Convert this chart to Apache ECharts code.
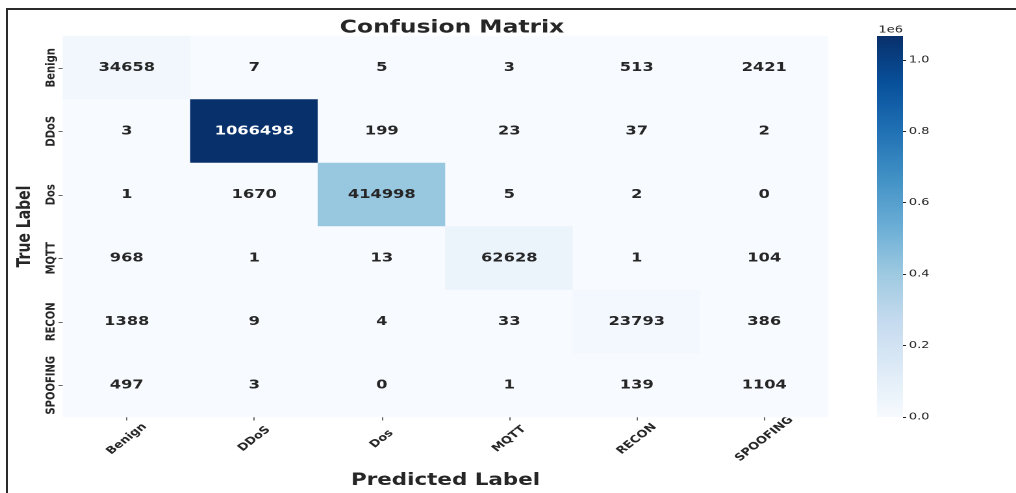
<!DOCTYPE html>
<html>
<head>
<meta charset="utf-8">
<script src="https://cdn.jsdelivr.net/npm/echarts@6/dist/echarts.min.js"></script>
<style>
  html, body { margin: 0; padding: 0; background: #ffffff; overflow: hidden; }
  #chart { position: absolute; left: 0; top: 0; width: 782px; height: 493px;
           transform: scaleX(1.29923); transform-origin: 0 0; }
  #frame { position: absolute; left: 6px; top: 8px; right: -10px; bottom: -10px;
           border-top: 2px solid #2b2b2b; border-left: 2px solid #2b2b2b;
           pointer-events: none; z-index: 5; }
</style>
</head>
<body>
<div id="chart"></div>
<div id="frame"></div>
<script>
// ---- data ----
const predictedLabels = ['Benign', 'DDoS', 'Dos', 'MQTT', 'RECON', 'SPOOFING'];
const trueLabels = ['Benign', 'DDoS', 'Dos', 'MQTT', 'RECON', 'SPOOFING'];
const rowBenign   = [34658, 7, 5, 3, 513, 2421];
const rowDDoS     = [3, 1066498, 199, 23, 37, 2];
const rowDos      = [1, 1670, 414998, 5, 2, 0];
const rowMQTT     = [968, 1, 13, 62628, 1, 104];
const rowRECON    = [1388, 9, 4, 33, 23793, 386];
const rowSPOOFING = [497, 3, 0, 1, 139, 1104];
const colorbarTickStep = 200000;
const bluesColors = ['#f7fbff', '#deebf7', '#c6dbef', '#9ecae1', '#6baed6',
                     '#4292c6', '#2171b5', '#08519c', '#08306b'];

const rows = [rowBenign, rowDDoS, rowDos, rowMQTT, rowRECON, rowSPOOFING];
const vmax = Math.max(...rows.map(r => Math.max(...r)));
const data = [];
rows.forEach((r, yi) => r.forEach((v, xi) => {
  data.push({ value: [xi, yi, v],
    label: { color: v / vmax > 0.6 ? '#ffffff' : '#262626' } });
}));

const FONT = 'DejaVu Sans';
// colorbar geometry (in unstretched chart coordinates)
const CB = { left: 675, top: 36, width: 20, height: 381 };

const chart = echarts.init(document.getElementById('chart'), null, { devicePixelRatio: 2 });
chart.setOption({
  animation: false,
  backgroundColor: '#ffffff',
  title: {
    text: 'Confusion Matrix',
    left: 342.9, textAlign: 'center', top: 14,
    textStyle: { fontFamily: FONT, fontWeight: 'bold', fontSize: 18, color: '#262626' }
  },
  grid: [
    { left: 48.5, top: 36, width: 588.8, height: 381, outerBoundsMode: 'none', containLabel: false },
    { left: CB.left, top: CB.top, width: CB.width, height: CB.height, outerBoundsMode: 'none', containLabel: false }
  ],
  xAxis: [
    {
      type: 'category', data: predictedLabels, gridIndex: 0,
      axisLine: { show: false },
      axisTick: { show: true, alignWithLabel: true, length: 3.5, lineStyle: { color: '#666' } },
      axisLabel: { interval: 0, rotate: 45, align: 'center', verticalAlign: 'middle', margin: 22,
        fontFamily: FONT, fontWeight: 'bold', fontSize: 10, color: '#262626' },
      splitLine: { show: false },
      name: 'Predicted Label', nameLocation: 'middle', nameGap: 55,
      nameTextStyle: { fontFamily: FONT, fontWeight: 'bold', fontSize: 16.5, color: '#262626' }
    },
    { type: 'value', gridIndex: 1, min: 0, max: 1,
      axisLine: { show: false }, axisTick: { show: false }, axisLabel: { show: false },
      splitLine: { show: false } }
  ],
  yAxis: [
    {
      type: 'category', data: trueLabels, inverse: true, gridIndex: 0,
      axisLine: { show: false },
      axisTick: { show: true, alignWithLabel: true, length: 3.5, lineStyle: { color: '#666' } },
      axisLabel: { interval: 0, rotate: 90, align: 'center', verticalAlign: 'middle', margin: 9,
        fontFamily: FONT, fontWeight: 'bold', fontSize: 10, color: '#262626' },
      splitLine: { show: false },
      name: 'True Label', nameLocation: 'middle', nameGap: 20,
      nameTextStyle: { fontFamily: FONT, fontWeight: 'bold', fontSize: 14, color: '#262626' }
    },
    {
      type: 'value', gridIndex: 1, position: 'right', min: 0, max: vmax,
      interval: colorbarTickStep,
      axisLine: { show: false, onZero: false },
      splitLine: { show: false },
      axisTick: { show: true, inside: false, length: 2.5,
        lineStyle: { color: '#262626', width: 1 } },
      axisLabel: { margin: 4.5, showMaxLabel: false,
        formatter: v => (v / 1e6).toFixed(1),
        fontFamily: FONT, fontSize: 10, color: '#262626' }
    }
  ],
  visualMap: {
    type: 'continuous', min: 0, max: vmax, seriesIndex: 0, show: false,
    inRange: { color: bluesColors }
  },
  graphic: [
    {
      type: 'rect', silent: true, z: 1,
      shape: { x: CB.left, y: CB.top, width: CB.width, height: CB.height },
      style: {
        fill: new echarts.graphic.LinearGradient(0, 1, 0, 0,
          bluesColors.map((c, i) => ({ offset: i / (bluesColors.length - 1), color: c })))
      }
    },
    {
      type: 'text', silent: true,
      x: CB.left + CB.width, y: CB.top - 1,
      style: { text: '1e6', fontFamily: FONT, fontSize: 10, fill: '#262626',
        align: 'right', verticalAlign: 'bottom' }
    }
  ],
  series: [{
    type: 'heatmap', xAxisIndex: 0, yAxisIndex: 0,
    data: data,
    label: { show: true, fontFamily: FONT, fontWeight: 'bold', fontSize: 12.5,
      formatter: p => String(p.value[2]) },
    itemStyle: { borderWidth: 0 },
    emphasis: { disabled: true }
  }]
});
</script>
</body>
</html>
